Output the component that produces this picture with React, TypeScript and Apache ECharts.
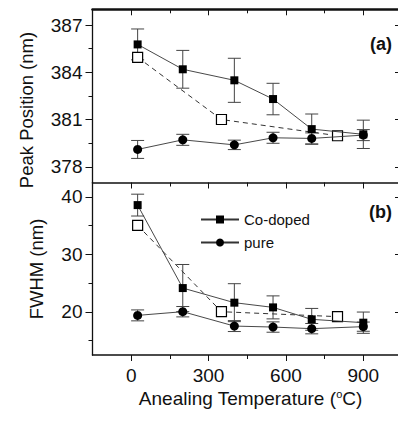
import React, { useEffect, useRef } from "react";
import * as echarts from "echarts";

const temps = [25, 200, 400, 550, 700, 900];
const openTemps = [25, 350, 800];

const peakCoDoped = [385.77, 384.19, 383.49, 382.3, 380.39, 380.06];
const peakCoDopedErr = [0.98, 1.2, 1.4, 1.0, 0.96, 0.9];
const peakCoDopedOpen = [384.95, 381.0, 379.97];
const peakPure = [379.1, 379.71, 379.39, 379.84, 379.8, 380.01];
const peakPureErr = [0.57, 0.35, 0.3, 0.35, 0.35, 0.35];

const fwhmCoDoped = [38.57, 24.14, 21.6, 20.78, 18.7, 18.12];
const fwhmCoDopedErr = [1.9, 4.1, 3.3, 2.0, 1.9, 1.85];
const fwhmCoDopedOpen = [35.04, 20.03, 19.17];
const fwhmPure = [19.39, 20.03, 17.53, 17.36, 17.08, 17.43];
const fwhmPureErr = [0.95, 0.9, 0.95, 0.9, 0.9, 0.8];

const xTicks = [0, 300, 600, 900];
const xMinorTicks = [150, 450, 750];
const peakTicks = [378, 381, 384, 387];
const peakMinorTicks = [379.5, 382.5, 385.5];
const fwhmTicks = [20, 30, 40];
const fwhmMinorTicks = [15, 25, 35];

const FONT = "'Liberation Sans', Arial, Helvetica, sans-serif";
const INK = "#111";
const LINE = "#333";

const X_MIN = -150, X_MAX = 1050;
const P_MIN = 377, P_MAX = 388;
const F_MIN = 12.5, F_MAX = 42.5;

function xAxisDef(grid: number, position: string, ticks: number[], opts: any) {
  return {
    type: "value",
    gridIndex: grid,
    position,
    min: X_MIN,
    max: X_MAX,
    splitLine: { show: false },
    axisLine: { show: opts.line > 0, onZero: false, lineStyle: { color: INK, width: opts.line || 1 } },
    axisTick: { show: true, inside: opts.inside, length: opts.len, customValues: ticks, lineStyle: { color: INK, width: 1 } },
    axisLabel: opts.labels
      ? { show: true, customValues: opts.labels, fontSize: 19, lineHeight: 19, color: INK, fontFamily: FONT, margin: 11 }
      : { show: false },
  };
}

function yAxisDef(grid: number, position: string, min: number, max: number, ticks: number[], opts: any) {
  return {
    type: "value",
    gridIndex: grid,
    position,
    min,
    max,
    splitLine: { show: false },
    axisLine: { show: opts.line > 0, onZero: false, lineStyle: { color: INK, width: opts.line || 1 } },
    axisTick: { show: true, inside: opts.inside, length: opts.len, customValues: ticks, lineStyle: { color: INK, width: 1 } },
    axisLabel: opts.labels
      ? { show: true, customValues: opts.labels, fontSize: 19, lineHeight: 19, color: INK, fontFamily: FONT, margin: 10 }
      : { show: false },
  };
}

function errorBars(xs: number[], ys: number[], errs: number[], xi: number, yi: number) {
  return {
    type: "custom",
    xAxisIndex: xi,
    yAxisIndex: yi,
    silent: true,
    z: 1,
    data: xs.map((x, i) => [x, ys[i], errs[i]]),
    renderItem: (params: any, api: any) => {
      const x = api.value(0), y = api.value(1), e = api.value(2);
      const top = api.coord([x, y + e]);
      const bot = api.coord([x, y - e]);
      const hw = 6.5;
      const style = { stroke: "#444", lineWidth: 1, fill: null };
      return {
        type: "group",
        children: [
          { type: "line", shape: { x1: top[0], y1: top[1], x2: bot[0], y2: bot[1] }, style },
          { type: "line", shape: { x1: top[0] - hw, y1: top[1], x2: top[0] + hw, y2: top[1] }, style },
          { type: "line", shape: { x1: bot[0] - hw, y1: bot[1], x2: bot[0] + hw, y2: bot[1] }, style },
        ],
      };
    },
  };
}

function lineSeries(name: string, xs: number[], ys: number[], xi: number, yi: number, kind: string) {
  const base: any = {
    name,
    type: "line",
    xAxisIndex: xi,
    yAxisIndex: yi,
    data: xs.map((x, i) => [x, ys[i]]),
    showAllSymbol: true,
    z: 3,
  };
  if (kind === "square") {
    base.symbol = "rect";
    base.symbolSize = 8;
    base.itemStyle = { color: "#000" };
    base.lineStyle = { color: LINE, width: 0.9 };
  } else if (kind === "circle") {
    base.symbol = "circle";
    base.symbolSize = 9;
    base.itemStyle = { color: "#000" };
    base.lineStyle = { color: LINE, width: 0.9 };
  } else {
    base.symbol = "rect";
    base.symbolSize = 10;
    base.itemStyle = { color: "#fff", borderColor: "#000", borderWidth: 1.2 };
    base.lineStyle = { color: LINE, width: 1, type: [5, 4] };
    base.z = 2;
  }
  return base;
}

export default function App() {
  const ref = useRef<HTMLDivElement>(null);
  useEffect(() => {
    if (!ref.current) return;
    const chart = echarts.init(ref.current, undefined, { renderer: "svg" });
    const gridLeft = 92.5;
    const gridWidth = 309.5;
    const option: any = {
      animation: false,
      backgroundColor: "#fff",
      textStyle: { fontFamily: FONT },
      grid: [
        { left: gridLeft, top: 9.3, width: gridWidth, height: 173.2, outerBoundsMode: "none", containLabel: false },
        { left: gridLeft, top: 182.5, width: gridWidth, height: 172.5, outerBoundsMode: "none", containLabel: false },
      ],
      xAxis: [
        xAxisDef(0, "bottom", xTicks, { line: 1.5, inside: false, len: 6 }),
        xAxisDef(0, "bottom", xMinorTicks, { line: 0, inside: false, len: 4 }),
        xAxisDef(0, "top", xTicks, { line: 2.5, inside: true, len: 6 }),
        xAxisDef(0, "top", xMinorTicks, { line: 0, inside: true, len: 4 }),
        xAxisDef(1, "bottom", xTicks, { line: 1.5, inside: false, len: 6, labels: xTicks }),
        xAxisDef(1, "bottom", xMinorTicks, { line: 0, inside: false, len: 4 }),
      ],
      yAxis: [
        yAxisDef(0, "left", P_MIN, P_MAX, peakTicks, { line: 1.3, inside: false, len: 7, labels: peakTicks }),
        yAxisDef(0, "left", P_MIN, P_MAX, peakMinorTicks, { line: 0, inside: false, len: 4 }),
        yAxisDef(0, "right", P_MIN, P_MAX, peakTicks, { line: 1.3, inside: true, len: 7 }),
        yAxisDef(1, "left", F_MIN, F_MAX, fwhmTicks, { line: 1.3, inside: false, len: 7, labels: fwhmTicks }),
        yAxisDef(1, "left", F_MIN, F_MAX, fwhmMinorTicks, { line: 0, inside: false, len: 4 }),
        yAxisDef(1, "right", F_MIN, F_MAX, fwhmTicks, { line: 1.3, inside: true, len: 7 }),
      ],
      legend: {
        data: ["Co-doped", "pure"],
        orient: "vertical",
        left: 195,
        top: 207,
        itemWidth: 38,
        itemHeight: 10,
        itemGap: 8,
        selectedMode: false,
        textStyle: { fontSize: 15, color: INK, fontFamily: FONT },
      },
      series: [
        errorBars(temps, peakCoDoped, peakCoDopedErr, 0, 0),
        errorBars(temps, peakPure, peakPureErr, 0, 0),
        lineSeries("Co-doped (as-grown)", openTemps, peakCoDopedOpen, 0, 0, "open"),
        lineSeries("Co-doped", temps, peakCoDoped, 0, 0, "square"),
        lineSeries("pure", temps, peakPure, 0, 0, "circle"),
        errorBars(temps, fwhmCoDoped, fwhmCoDopedErr, 4, 3),
        errorBars(temps, fwhmPure, fwhmPureErr, 4, 3),
        lineSeries("Co-doped (as-grown) ", openTemps, fwhmCoDopedOpen, 4, 3, "open"),
        lineSeries("Co-doped", temps, fwhmCoDoped, 4, 3, "square"),
        lineSeries("pure", temps, fwhmPure, 4, 3, "circle"),
      ],
      graphic: [
        {
          type: "text",
          x: 26,
          y: 110,
          rotation: Math.PI / 2,
          style: { text: "Peak Position (nm)", fontSize: 18.5, fontFamily: FONT, fill: INK, align: "center", verticalAlign: "middle" },
        },
        {
          type: "text",
          x: 36,
          y: 269,
          rotation: Math.PI / 2,
          style: { text: "FWHM (nm)", fontSize: 18.5, fontFamily: FONT, fill: INK, align: "center", verticalAlign: "middle" },
        },
        {
          type: "text",
          x: 250.5,
          y: 398,
          style: {
            text: "Anealing Temperature ({sup|o}C)",
            fontSize: 19,
            lineHeight: 19,
            fontFamily: FONT,
            fill: INK,
            align: "center",
            verticalAlign: "middle",
            rich: { sup: { fontSize: 11, lineHeight: 19, fontFamily: FONT, fill: INK, verticalAlign: "top", padding: [0, 0, 6, 0] } },
          },
        },
        {
          type: "text",
          x: 392,
          y: 44,
          style: { text: "(a)", fontSize: 18, fontWeight: "bold", fontFamily: FONT, fill: INK, align: "right", verticalAlign: "middle" },
        },
        {
          type: "text",
          x: 392,
          y: 212,
          style: { text: "(b)", fontSize: 18, fontWeight: "bold", fontFamily: FONT, fill: INK, align: "right", verticalAlign: "middle" },
        },
      ],
    };
    chart.setOption(option);
    return () => chart.dispose();
  }, []);
  return <div ref={ref} style={{ position: "fixed", left: 0, top: 0, width: 398, height: 427, background: "#fff" }} />;
}
